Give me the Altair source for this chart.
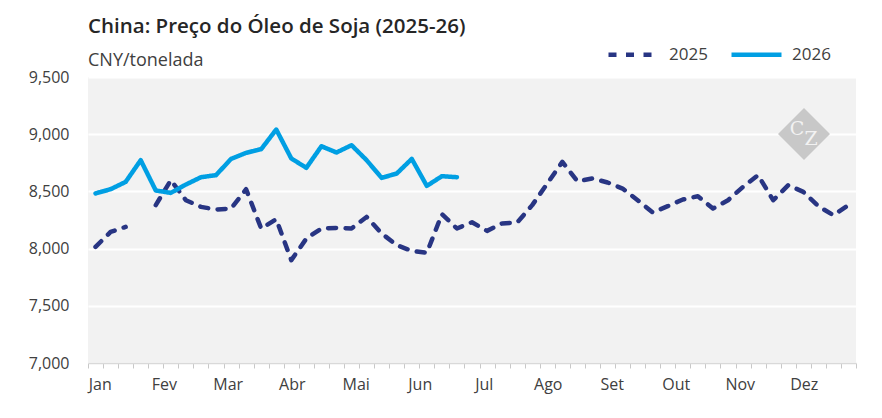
import altair as alt
import pandas as pd

# ---- data ----
series_names = ["2025", "2026"]
month_labels = ["Jan", "Fev", "Mar", "Abr", "Mai", "Jun", "Jul", "Ago", "Set", "Out", "Nov", "Dez"]
y_ticks = [7000, 7500, 8000, 8500, 9000, 9500]

price_2025 = [8015, 8146, 8190, None, 8380, 8598, 8423, 8365, 8342, 8350,
              8519, 8176, 8257, 7899, 8088, 8176, 8181, 8176, 8277, 8132,
              8030, 7980, 7963, 8301, 8176, 8230, 8155, 8220, 8228, 8380,
              8569, 8758, 8589, 8613, 8578, 8525, 8423, 8316, 8371, 8429,
              8458, 8350, 8423, 8540, 8642, 8423, 8554, 8496, 8371, 8292,
              8380]
price_2026 = [8482, 8519, 8583, 8773, 8508, 8487, 8560, 8624, 8642, 8784,
              8837, 8869, 9041, 8788, 8706, 8895, 8840, 8904, 8773, 8618,
              8656, 8784, 8548, 8633, 8624]

rows = []
for i, v in enumerate(price_2025):
    rows.append({"week": i, "price": v, "series": "2025"})
for i, v in enumerate(price_2026):
    rows.append({"week": i, "price": v, "series": "2026"})
df = pd.DataFrame(rows)

n_weeks = len(price_2025)
boundaries = [i - 0.5 for i in range(n_weeks + 1)]
month_pos = [round(0.28 + m * n_weeks / 12, 2) for m in range(12)]

C25 = "#283583"
C26 = "#009fe3"
FONT = "Open Sans"
TXT = "#404040"

months_js = "[" + ",".join("'%s'" % m for m in month_labels) + "]"
is_boundary = "abs(datum.value + 0.5 - round(datum.value + 0.5)) < 0.01"
label_expr = "%s ? '' : %s[round((datum.value - 0.28) / %f)]" % (is_boundary, months_js, n_weeks / 12)

legend = alt.Legend(
    title=None, orient="none", legendX=518, legendY=-50, direction="horizontal",
    symbolType="stroke", symbolSize=2500, symbolStrokeWidth=4.5,
    labelFontSize=17, labelFont=FONT, labelColor=TXT, labelOffset=8,
    columnPadding=14,
)

x_enc = alt.X(
    "week:Q",
    scale=alt.Scale(domain=[-0.5, n_weeks - 0.5], nice=False, zero=False),
    axis=alt.Axis(
        title=None, values=boundaries + month_pos, labelExpr=label_expr,
        grid=False, domainColor="#d9d9d9", domainWidth=1.5,
        tickColor="#c8c8c8", tickSize=5, tickWidth=1,
        tickOpacity={"condition": {"test": "!(" + is_boundary + ")", "value": 0}, "value": 1},
        labelOverlap=False, labelFlush=False, labelBound=False,
        labelFont=FONT, labelFontSize=16, labelColor=TXT, labelPadding=8,
        labelAlign="center",
    ),
)
y_enc = alt.Y(
    "price:Q",
    scale=alt.Scale(domain=[7000, 9500], nice=False, zero=False),
    axis=alt.Axis(
        title=None, values=y_ticks, format=",.0f", domain=False, ticks=False,
        grid=True, gridColor="#ffffff", gridWidth=2,
        labelFont=FONT, labelFontSize=16, labelColor=TXT, labelPadding=19,
    ),
)

lines = alt.Chart(df).mark_line(
    strokeWidth=4.5, strokeCap="round", strokeJoin="round",
    invalid="break-paths-show-domains",
).encode(
    x=x_enc,
    y=y_enc,
    color=alt.Color("series:N", scale=alt.Scale(domain=series_names, range=[C25, C26]), legend=legend),
    strokeDash=alt.StrokeDash("series:N", scale=alt.Scale(domain=series_names, range=[[8, 9.5], [1, 0]]), legend=legend),
)

logo_df = pd.DataFrame({"logo": ["CZ"]})
logo_diamond = alt.Chart(logo_df).mark_point(
    shape="diamond", filled=True, size=2700, color="#c8c8c8", opacity=1
).encode(x=alt.value(716), y=alt.value(57))
logo_c = alt.Chart(logo_df).mark_text(
    text="C", font="DejaVu Serif", fontSize=19, color="#f2f2f2", dx=-7, dy=-5
).encode(x=alt.value(716), y=alt.value(57))
logo_z = alt.Chart(logo_df).mark_text(
    text="Z", font="DejaVu Serif", fontSize=19, color="#f2f2f2", dx=7, dy=5
).encode(x=alt.value(716), y=alt.value(57))

chart = alt.layer(logo_diamond, logo_c, logo_z, lines).properties(
    width=768, height=286,
    autosize=alt.AutoSizeParams(type="none"),
    padding={"left": 80, "top": 69, "right": 18, "bottom": 40},
    title=alt.TitleParams(
        text="China: Preço do Óleo de Soja (2025-26)",
        subtitle="CNY/tonelada",
        anchor="start", frame="group", orient="top",
        font=FONT, fontSize=20.5, fontWeight=600, color="#262626",
        subtitleFont=FONT, subtitleFontSize=18, subtitleColor=TXT,
        subtitlePadding=15, offset=-43,
    ),
).configure_view(fill="#f2f2f2", strokeWidth=0)

chart.save("out.html", embed_options={"renderer": "svg", "actions": False})
